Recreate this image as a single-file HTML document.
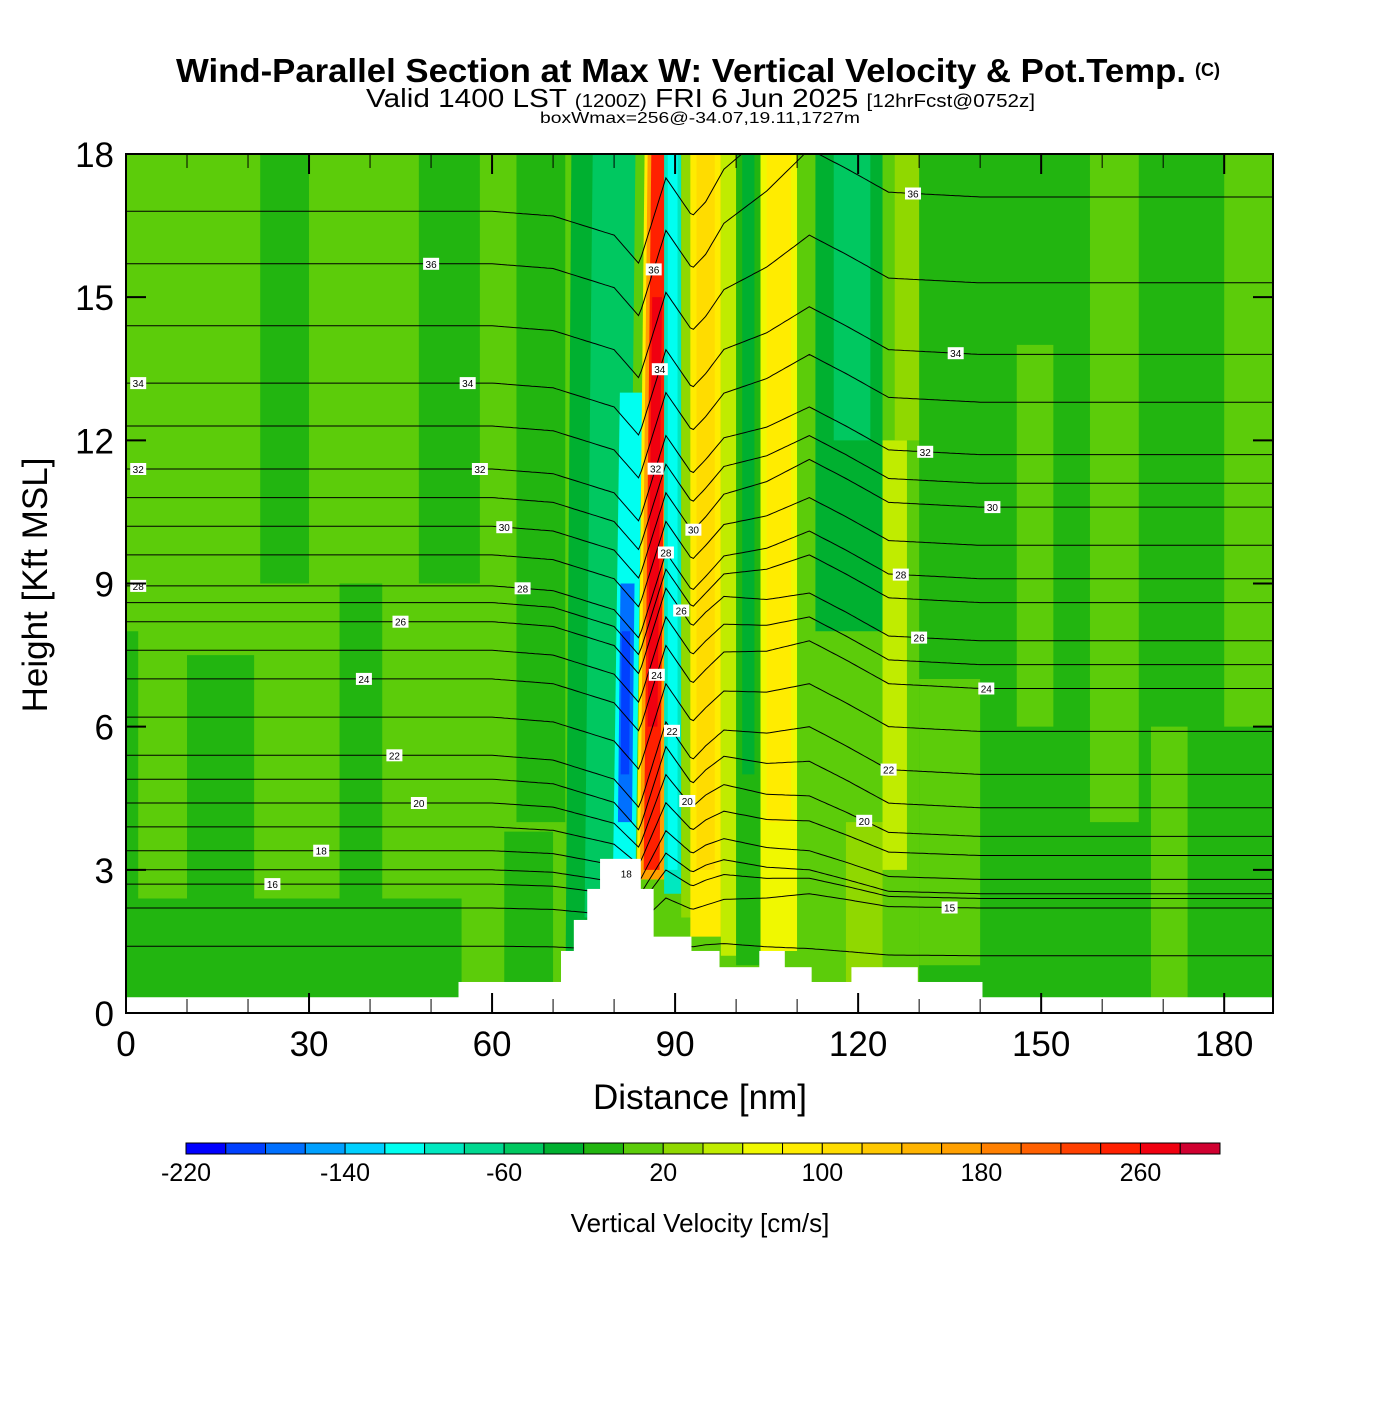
<!DOCTYPE html>
<html><head><meta charset="utf-8"><style>
html,body{margin:0;padding:0;background:#fff;}
svg text{font-family:"Liberation Sans",sans-serif;}
</style></head><body>
<svg id="chart" width="1400" height="1400" viewBox="0 0 1400 1400" xmlns="http://www.w3.org/2000/svg">
<text x="176" y="82" font-size="33" font-weight="bold" textLength="1010" lengthAdjust="spacingAndGlyphs">Wind-Parallel Section at Max W: Vertical Velocity &amp; Pot.Temp.</text>
<text x="1195" y="76" font-size="18" font-weight="bold">(C)</text>
<text x="366" y="107" font-size="26" textLength="669" lengthAdjust="spacingAndGlyphs">Valid 1400 LST <tspan font-size="18">(1200Z)</tspan> FRI 6 Jun 2025 <tspan font-size="18">[12hrFcst@0752z]</tspan></text>
<text x="540" y="123" font-size="16" textLength="320" lengthAdjust="spacingAndGlyphs">boxWmax=256@-34.07,19.11,1727m</text>
<defs><clipPath id="plotclip"><rect x="126" y="154" width="1147" height="859"/></clipPath></defs>
<g id="field" clip-path="url(#plotclip)"></g>
<g id="contours" clip-path="url(#plotclip)"></g>
<g id="terrain" clip-path="url(#plotclip)"></g>
<g id="labels"></g>
<rect x="126" y="154" width="1147" height="859" fill="none" stroke="#000" stroke-width="2"/>
<g id="axes"></g>
<text x="700" y="1109" font-size="35" text-anchor="middle">Distance [nm]</text>
<text transform="translate(47,585) rotate(-90)" font-size="35" text-anchor="middle">Height [Kft MSL]</text>
<g id="colorbar"></g>
<text x="700" y="1232" font-size="26" text-anchor="middle">Vertical Velocity [cm/s]</text>
</svg>
<script>
// ---- data ----
const colorLevels = [-220,-200,-180,-160,-140,-120,-100,-80,-60,-40,-20,0,20,40,60,80,100,120,140,160,180,200,220,240,260,280,300];
const colorBins = ["#0000ff","#0040ff","#0070ff","#00a0ff","#00d0ff","#00fff0","#00e8c0","#00d890","#00c860","#00b030","#22b510","#5ccc0a","#90d800","#c0ec00","#f0f800","#ffec00","#ffdc00","#ffc800","#ffb400","#ffa000","#ff8000","#ff6000","#ff4000","#ff2000","#f00010","#d00030"];
const colorbarTicks = [-220,-140,-60,20,100,180,260];
const xTicks = [0,30,60,90,120,150,180];
const yTicks = [0,3,6,9,12,15,18];
// velocity regions: [x0, x1, z0, z1, slantAtTop(nm), w(cm/s)]
const wRegions = [
 [0,188,0,18,0,10],
 [22,30,9,18,0,-10],[10,21,0,7.5,0,-10],[35,42,0,9,0,-10],[0,2,1,8,0,-10],[0,55,0,2.4,0,-10],
 [48,58,9,18,0,-10],[62,70,0,3.8,0,-10],[64,72,4,18,0,-10],
 [72,80,0,18,1,-30],[75,82,2,18,1.5,-50],
 [79.5,83.2,3,13,2,-110],[80.3,82.6,4,9,1.5,-170],[80.8,82.2,5,8,1,-200],
 [83.5,88.8,2.8,18,1.5,90],[84,88,2.8,18,1.5,170],[84.6,87.2,3,18,1.5,240],[85,86.6,6,15,1.5,270],
 [88.2,91,2.5,18,0,-90],[88.8,90.4,3,18,0,-120],
 [91,92.6,2,18,0,30],[92.5,97.5,1.6,18,0,95],[93.5,96.5,3,18,0,110],[97.5,100,1.2,18,0,50],
 [100,104,1,18,0,-10],[101,103,5,18,0,-30],
 [104,110,1.3,18,0,75],[105,109,4,18,0,95],[110,114,1,18,0,10],
 [113,124,8,18,0,-30],[116,122,12,18,0,-50],
 [118,124,0,4,0,30],[124,128,3,12,0,40],[126,131,12,18,0,30],
 [130,188,0,18,0,-10],[158,166,4,18,0,10],[180,188,6,18,0,10],[130,140,1,7,0,10],[146,152,6,14,0,10],[168,174,0,6,0,10]
];
// potential temperature contours: level, left-side height (kft), right-side offset (kft)
const thetaLevels = [14,15,16,17,18,19,20,21,22,23,24,25,26,27,28,29,30,31,32,33,34,35,36,37];
const thetaBase =  [1.4,2.2,2.7,3.0,3.4,3.9,4.4,4.9,5.4,6.2,7.0,7.6,8.2,8.6,8.95,9.6,10.2,10.8,11.4,12.3,13.2,14.4,15.7,16.8];
const thetaRight = [-0.2,0,-0.3,-0.5,-0.6,-0.6,-0.7,-0.6,-0.4,-0.3,-0.2,-0.3,-0.4,0,0.15,0.2,0.4,0.3,0.3,0.5,0.6,0.9,1.4,1.6];
// displacement profile (kft) along distance (nm)
const dispX = [0,20,40,60,70,75,80,84.1,88.5,92.8,98,105,112,118,125,140,160,188];
const dispZ = [0,0,0,0,-0.1,-0.3,-0.5,-1.1,0.7,-0.1,0.6,0.7,1.0,0.6,0.1,0,0,0];
// contour labels: [theta, distance]
const contourLabels = [[36,50],[36,86.5],[36,129],[34,2],[34,56],[34,87.5],[34,136],[32,2],[32,58],[32,86.8],[32,131],[30,62],[30,93],[30,142],[28,2],[28,65],[28,88.5],[28,127],[26,45],[26,91],[26,130],[24,39],[24,87],[24,141],[22,44],[22,89.5],[22,125],[20,48],[20,92],[20,121],[18,32],[18,82],[16,24],[15,135]];
// terrain segments: [x0, x1, height kft]
const terrain = [[0,54.5,0.33],[54.5,71.3,0.65],[71.3,73.4,1.3],[73.4,75.6,1.95],[75.6,77.7,2.6],[77.7,84.3,3.23],[84.3,86.4,2.6],[86.4,92.6,1.6],[92.6,97.2,1.3],[97.2,103.8,0.96],[103.8,107.9,1.3],[107.9,112.3,0.96],[112.3,118.9,0.65],[118.9,129.7,0.96],[129.7,140.3,0.65],[140.3,188,0.33]];
// ---- scales ----
const X0=126, X1=1273, Y0=1013, Y1=154, XMAX=188, ZMAX=18;
const sx = d => X0 + d/XMAX*(X1-X0);
const sy = z => Y0 - z/ZMAX*(Y0-Y1);
const NS="http://www.w3.org/2000/svg";
function mk(tag, attrs, parent){const e=document.createElementNS(NS,tag);for(const k in attrs)e.setAttribute(k,attrs[k]);parent.appendChild(e);return e;}
function colorFor(w){for(let i=0;i<colorBins.length;i++){if(w<colorLevels[i+1])return colorBins[i];}return colorBins[colorBins.length-1];}
function disp(d){for(let i=0;i<dispX.length-1;i++){if(d<=dispX[i+1]){const t=(d-dispX[i])/(dispX[i+1]-dispX[i]);return dispZ[i]+t*(dispZ[i+1]-dispZ[i]);}}return dispZ[dispZ.length-1];}
function ramp(d){return Math.min(1,Math.max(0,(d-95)/17));}
function thetaZ(idx,d){const b=thetaBase[idx];const f=Math.min(1,Math.max(0.15,(b-1)/4));return b+disp(d)*f+thetaRight[idx]*ramp(d);}
// field
const field=document.getElementById('field');
wRegions.forEach((r,i)=>{
 const [a,b,z0,z1,sl,w]=r;
 const s0=sl*z0/ZMAX, s1=sl*z1/ZMAX;
 const pts=[[sx(a+s0),sy(z0)],[sx(b+s0),sy(z0)],[sx(b+s1),sy(z1)],[sx(a+s1),sy(z1)]];
 const p=mk('polygon',{points:pts.map(q=>q.join(',')).join(' '),fill:colorFor(w)},field);
 
 
});
// contours
const cg=document.getElementById('contours');
thetaLevels.forEach((th,i)=>{
 let dstr='';
 for(let d=0;d<=XMAX;d+=0.5){dstr+=(d===0?'M':'L')+sx(d).toFixed(1)+','+sy(thetaZ(i,d)).toFixed(1);}
 const p=mk('path',{d:dstr,fill:'none',stroke:'#000','stroke-width':1},cg);
 
 
});
// terrain
const tg=document.getElementById('terrain');
terrain.forEach((s,i)=>{
 const r=mk('rect',{x:sx(s[0]),y:sy(s[2]),width:sx(s[1])-sx(s[0])+0.5,height:Y0-sy(s[2]),fill:'#fff'},tg);
 
 
});
// labels
const lg=document.getElementById('labels');
contourLabels.forEach(l=>{
 const idx=thetaLevels.indexOf(l[0]);
 const x=sx(l[1]), y=sy(thetaZ(idx,l[1]));
 const g=mk('g',{transform:`translate(${x.toFixed(1)},${y.toFixed(1)})`},lg);
 
 
 mk('rect',{x:-8,y:-6,width:16,height:12,fill:'#fff'},g);
 const t=mk('text',{x:0,y:4,'font-size':10,'text-anchor':'middle'},g);
 t.textContent=l[0];
});
// axes
const ag=document.getElementById('axes');
for(let d=10;d<XMAX;d+=10){
 const major=d%30===0, L=major?20:14;
 mk('line',{x1:sx(d),x2:sx(d),y1:Y0,y2:Y0-L,stroke:'#000','stroke-width':major?2:1},ag);
 mk('line',{x1:sx(d),x2:sx(d),y1:Y1,y2:Y1+L,stroke:'#000','stroke-width':major?2:1},ag);
}
xTicks.forEach(v=>{
 const t=mk('text',{x:sx(v),y:1056,'font-size':35,'text-anchor':'middle'},ag);
 
 
 t.textContent=v;
});
yTicks.forEach(v=>{
 mk('line',{x1:X0,x2:X0+20,y1:sy(v),y2:sy(v),stroke:'#000','stroke-width':2},ag);
 mk('line',{x1:X1,x2:X1-20,y1:sy(v),y2:sy(v),stroke:'#000','stroke-width':2},ag);
 const t=mk('text',{x:114,y:sy(v)+13,'font-size':35,'text-anchor':'end'},ag);
 
 
 t.textContent=v;
});
// colorbar
const cb=document.getElementById('colorbar');
const CB0=186, CB1=1220, CBY=1143, CBH=11;
const cw=(CB1-CB0)/colorBins.length;
colorBins.forEach((c,i)=>{
 const r=mk('rect',{x:CB0+i*cw,y:CBY,width:cw,height:CBH,fill:c,stroke:'#000','stroke-width':1},cb);
 
 
});
colorbarTicks.forEach(v=>{
 const i=colorLevels.indexOf(v);
 const t=mk('text',{x:CB0+i*cw,y:1181,'font-size':25,'text-anchor':'middle'},cb);
 
 
 t.textContent=v;
});
</script>
</body></html>
